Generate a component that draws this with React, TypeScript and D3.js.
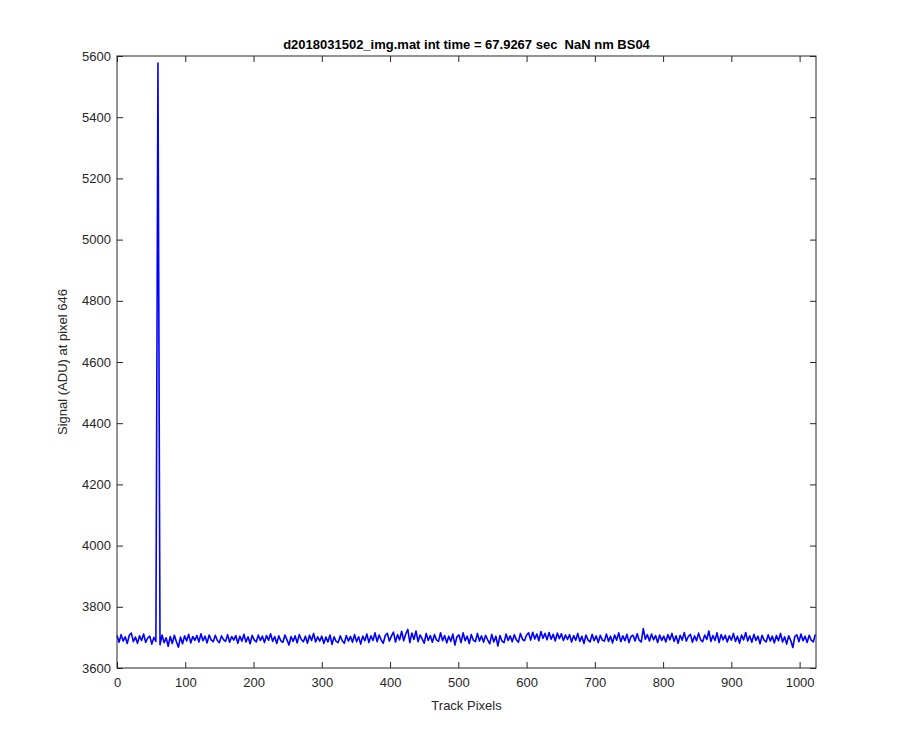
import { useEffect, useRef } from 'react';
import * as d3 from 'd3';

// samples every 3 track pixels (0, 3, 6 ... 1023); the cosmic-ray spike sits at pixel 60
const pixelStep = 3;
const signal = [
  3706, 3684, 3709, 3688, 3702, 3680, 3707, 3714, 3686, 3701, 3681, 3705, 3690, 3711, 3684, 3698, 3704, 3678, 3700, 3687,
  5577, 3676, 3708, 3683, 3699, 3671, 3703, 3680, 3707, 3686, 3668, 3701, 3679, 3705, 3688, 3710, 3682, 3703, 3690, 3706,
  3685, 3712, 3689, 3704, 3682, 3708, 3692, 3686, 3707, 3690, 3683, 3705, 3693, 3687, 3709, 3684, 3703, 3691, 3706, 3681,
  3704, 3688, 3710, 3685, 3702, 3679, 3707, 3692, 3685, 3708, 3690, 3704, 3683, 3706, 3691, 3712, 3687, 3703, 3680, 3705,
  3689, 3684, 3708, 3692, 3675, 3703, 3687, 3705, 3682, 3709, 3693, 3686, 3704, 3681, 3707, 3690, 3713, 3685, 3702, 3688,
  3704, 3680, 3701, 3685, 3708, 3677, 3702, 3687, 3683, 3705, 3689, 3681, 3706, 3688, 3703, 3684, 3709, 3686, 3702, 3678,
  3704, 3689, 3711, 3683, 3705, 3690, 3715, 3686, 3708, 3692, 3681, 3706, 3713, 3688, 3704, 3717, 3685, 3709, 3692, 3720,
  3689, 3711, 3726, 3683, 3714, 3693, 3721, 3686, 3708, 3695, 3681, 3713, 3690, 3706, 3684, 3709, 3692, 3687, 3715, 3689,
  3706, 3682, 3704, 3687, 3711, 3675, 3702, 3708, 3683, 3715, 3689, 3704, 3680, 3709, 3691, 3686, 3713, 3688, 3705, 3684,
  3707, 3692, 3679, 3710, 3685, 3704, 3672, 3706, 3688, 3683, 3711, 3690, 3705, 3686, 3709, 3692, 3684, 3713, 3694, 3689,
  3708, 3715, 3691, 3717, 3695, 3711, 3689, 3719, 3697, 3713, 3692, 3716, 3694, 3710, 3688, 3714, 3696, 3712, 3690, 3708,
  3693, 3709, 3685, 3706, 3691, 3713, 3687, 3704, 3680, 3708, 3692, 3685, 3710, 3689, 3705, 3683, 3707, 3691, 3688, 3711,
  3687, 3704, 3682, 3708, 3691, 3715, 3686, 3705, 3689, 3710, 3683, 3703, 3707, 3688, 3712, 3691, 3685, 3729, 3694, 3709,
  3688, 3711, 3692, 3706, 3683, 3708, 3690, 3704, 3685, 3709, 3692, 3713, 3687, 3705, 3681, 3707, 3691, 3716, 3688, 3703,
  3710, 3684, 3705, 3689, 3714, 3692, 3686, 3708, 3693, 3721, 3687, 3706, 3690, 3715, 3683, 3709, 3692, 3707, 3685, 3705,
  3691, 3713, 3687, 3704, 3681, 3708, 3692, 3716, 3688, 3705, 3684, 3710, 3690, 3704, 3679, 3707, 3691, 3685, 3709, 3688,
  3704, 3682, 3706, 3689, 3713, 3685, 3702, 3678, 3705, 3690, 3667, 3703, 3708, 3686, 3711, 3689, 3704, 3683, 3707, 3691,
  3685, 3710,
];

const xTicks = [0, 100, 200, 300, 400, 500, 600, 700, 800, 900, 1000];
const yTicks = [3600, 3800, 4000, 4200, 4400, 4600, 4800, 5000, 5200, 5400, 5600];
const title = 'd2018031502_img.mat int time = 67.9267 sec  NaN nm BS04';
const xLabel = 'Track Pixels';
const yLabel = 'Signal (ADU) at pixel 646';

export default function App() {
  const ref = useRef<SVGSVGElement>(null);

  useEffect(() => {
    document.body.style.margin = '0';
    if (!ref.current) return;
    const svg = d3.select(ref.current);
    svg.selectAll('*').remove();

    const width = 900, height = 750;
    const margin = { top: 56, right: 84, bottom: 82, left: 117 };
    const innerW = width - margin.left - margin.right;
    const innerH = height - margin.top - margin.bottom;
    const axisColor = '#262626';
    const font = '"Liberation Sans", Arial, Helvetica, sans-serif';
    const fmt = d3.format('d');

    svg.append('rect').attr('width', width).attr('height', height).attr('fill', '#fff');

    const g = svg.append('g').attr('transform', `translate(${margin.left},${margin.top})`);

    const x = d3.scaleLinear().domain([0, 1024]).range([0, innerW]);
    const y = d3.scaleLinear().domain([3600, 5600]).range([innerH, 0]);

    const pts = signal.map((v, i) => [Math.min(i * pixelStep, 1023), v] as [number, number]);

    const line = d3.line<[number, number]>()
      .x(d => x(d[0]))
      .y(d => y(d[1]));

    g.append('path')
      .datum(pts)
      .attr('fill', 'none')
      .attr('stroke', '#0000ff')
      .attr('stroke-width', 1.6)
      .attr('stroke-linejoin', 'round')
      .attr('d', line);

    const styleAxis = (sel: d3.Selection<SVGGElement, unknown, null, undefined>) => {
      sel.select('.domain').remove();
      sel.selectAll('.tick line').attr('stroke', axisColor);
      sel.selectAll('.tick text').attr('fill', axisColor).attr('font-size', 13).attr('font-family', font);
    };

    // bottom axis, ticks inward
    g.append('g')
      .attr('transform', `translate(0,${innerH})`)
      .call(d3.axisBottom(x).tickValues(xTicks).tickFormat(d => fmt(d as number)).tickSizeInner(-6).tickSizeOuter(0).tickPadding(10))
      .call(styleAxis);

    // top ticks
    g.append('g')
      .call(d3.axisTop(x).tickValues(xTicks).tickSizeInner(-6).tickSizeOuter(0).tickFormat(() => ''))
      .call(styleAxis);

    // left axis
    g.append('g')
      .call(d3.axisLeft(y).tickValues(yTicks).tickFormat(d => fmt(d as number)).tickSizeInner(-6).tickSizeOuter(0).tickPadding(6))
      .call(styleAxis);

    // right ticks
    g.append('g')
      .attr('transform', `translate(${innerW},0)`)
      .call(d3.axisRight(y).tickValues(yTicks).tickSizeInner(-6).tickSizeOuter(0).tickFormat(() => ''))
      .call(styleAxis);

    // box
    g.append('rect')
      .attr('width', innerW)
      .attr('height', innerH)
      .attr('fill', 'none')
      .attr('stroke', axisColor)
      .attr('stroke-width', 1);

    g.append('text')
      .attr('x', innerW / 2)
      .attr('y', -7)
      .attr('text-anchor', 'middle')
      .attr('font-family', font)
      .attr('font-size', 13)
      .attr('font-weight', 'bold')
      .attr('fill', '#000')
      .style('white-space', 'pre')
      .text(title);

    g.append('text')
      .attr('x', innerW / 2)
      .attr('y', innerH + 42)
      .attr('text-anchor', 'middle')
      .attr('font-family', font)
      .attr('font-size', 13)
      .attr('fill', axisColor)
      .text(xLabel);

    g.append('text')
      .attr('transform', `translate(${-50},${innerH / 2}) rotate(-90)`)
      .attr('text-anchor', 'middle')
      .attr('font-family', font)
      .attr('font-size', 13)
      .attr('fill', axisColor)
      .text(yLabel);
  }, []);

  return <svg ref={ref} width={900} height={750} style={{ display: 'block' }} />;
}
